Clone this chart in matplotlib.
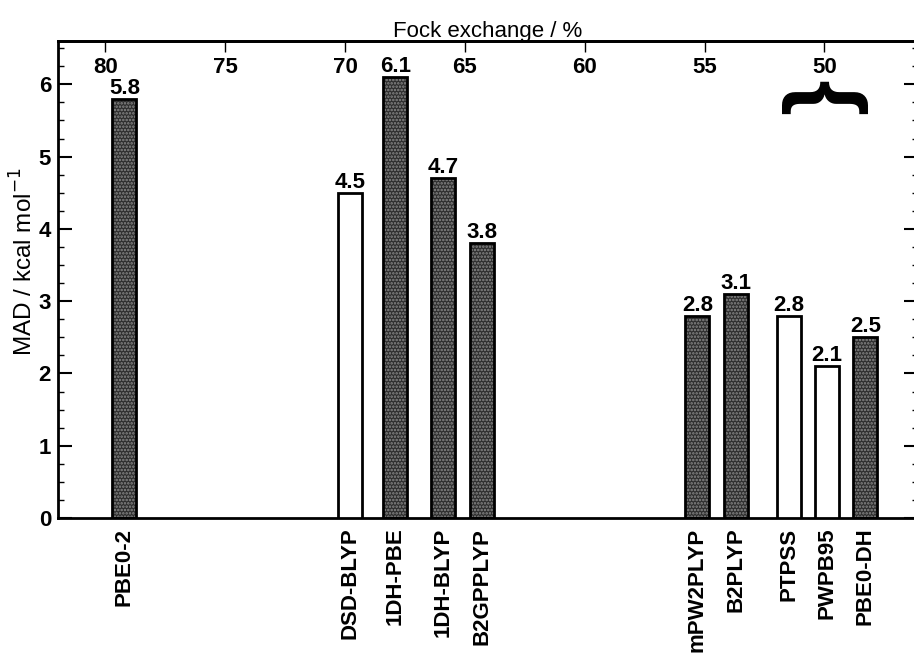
""" MAD of double-hybrid functionals against their Fock exchange fraction. """
import matplotlib
matplotlib.use("Agg")
import matplotlib.pyplot as plt
from matplotlib.ticker import AutoMinorLocator, MultipleLocator

plt.rcParams['font.family'] = ['Liberation Sans', 'DejaVu Sans']
plt.rcParams['hatch.linewidth'] = 1.2

methods = ['PBE0-2', 'DSD-BLYP', '1DH-PBE', '1DH-BLYP', 'B2GPPLYP',
           'mPW2PLYP', 'B2PLYP', 'PTPSS', 'PWPB95', 'PBE0-DH']
# bar position on the Fock exchange scale (%)
fock = [79.2, 69.8, 67.9, 65.9, 64.3, 55.3, 53.7, 51.5, 49.9, 48.3]
mad = [5.8, 4.5, 6.1, 4.7, 3.8, 2.8, 3.1, 2.8, 2.1, 2.5]
# True -> filled (textured) bar, False -> open bar
filled = [True, False, True, True, True, True, True, False, False, True]
fock_ticks = [80, 75, 70, 65, 60, 55, 50]


def main():
    fig = plt.figure(figsize=(9.14, 6.53), dpi=100)
    ax = fig.add_axes([58 / 914, 1 - 518 / 653, 860 / 914, 477 / 653])

    for x, y, f in zip(fock, mad, filled):
        if f:
            # dotted texture underneath the outline
            ax.bar(x, y, width=1.0, facecolor='#2e2e2e', edgecolor='#8a8a8a',
                   hatch='.....', linewidth=0, zorder=2)
        bars = ax.bar(x, y, width=1.0, edgecolor='black', linewidth=2,
                      facecolor='none' if f else 'white', zorder=3)
        ax.bar_label(bars, labels=['%.1f' % y], padding=0,
                     fontsize=16, fontweight='bold')

    ax.set_xlim(81.97, 46.1)
    ax.set_ylim(0, 6.6)

    ax.set_xticks(fock)
    ax.set_xticklabels(methods, rotation=90, fontsize=16, fontweight='bold')
    ax.tick_params(axis='x', length=0, pad=7)

    ax.yaxis.set_major_locator(MultipleLocator(1))
    ax.yaxis.set_minor_locator(AutoMinorLocator(4))
    ax.tick_params(axis='y', which='both', direction='in', right=True,
                   labelsize=16, pad=5, width=1.5)
    ax.tick_params(axis='y', which='major', length=10)
    ax.tick_params(axis='y', which='minor', length=4.5, width=1)
    for lab in ax.get_yticklabels():
        lab.set_fontweight('bold')
    ax.set_ylabel('MAD / kcal mol$^{-1}$', fontsize=17.5, labelpad=1,
                  y=0.537)

    for s in ax.spines.values():
        s.set_linewidth(2)

    top = ax.secondary_xaxis('top')
    top.set_xticks(fock_ticks)
    top.tick_params(direction='in', length=8, width=1, pad=-27,
                    labelsize=16)
    for lab in top.get_xticklabels():
        lab.set_fontweight('bold')
    top.spines['top'].set_linewidth(2)
    top.set_xlabel('Fock exchange / %', fontsize=16, labelpad=3)

    # brace grouping the 50 % functionals
    ax.text(50, 5.83, '}', rotation=90, ha='center', va='center',
            fontsize=66, fontweight='bold')

    fig.savefig('out.png', dpi=100)


if __name__ == "__main__":
    main()
